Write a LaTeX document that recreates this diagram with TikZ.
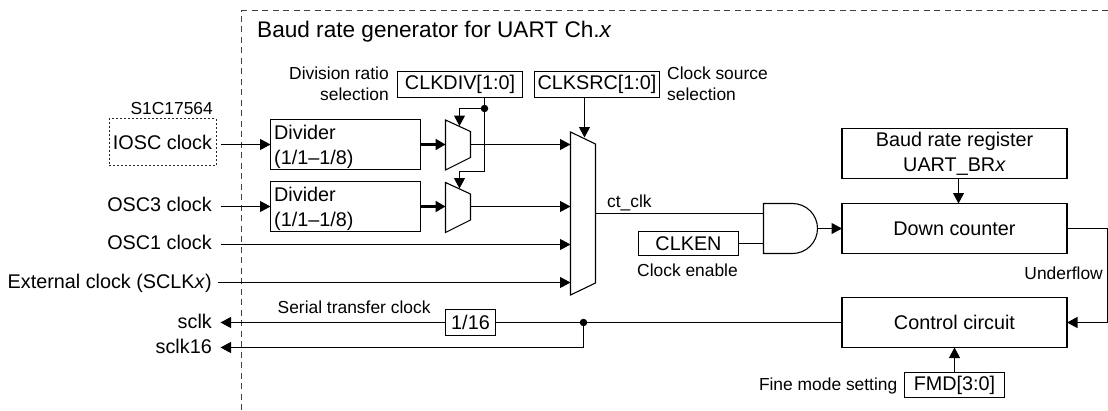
\documentclass[tikz,border=0pt]{standalone}
\usepackage{fontspec}
\setmainfont{Liberation Sans}
\usetikzlibrary{arrows.meta}
\newcommand{\ftitle}{\fontsize{22.6}{27}\selectfont}
\newcommand{\fmain}{\fontsize{19.8}{24.8}\selectfont}
\newcommand{\fsmall}{\fontsize{17.4}{21}\selectfont}
\tikzset{
  wire/.style={line width=1.1pt,-{Triangle[length=10.5pt,width=11pt]}},
  plain/.style={line width=1.1pt},
  thickwire/.style={line width=2.2pt,-{Triangle[length=10pt,width=11pt]}},
  blockbox/.style={draw,line width=1.1pt,inner sep=0pt,outer sep=0pt,font=\fmain,align=center},
  labelmain/.style={inner sep=0pt,font=\fmain},
  labelsmall/.style={inner sep=0pt,font=\fsmall},
  muxshape/.style={draw,line width=1.1pt,line join=miter},
  frame/.style={line width=0.9pt,dash pattern=on 6pt off 4.5pt,black!75},
  chipframe/.style={draw,line width=1pt,dash pattern=on 2pt off 2pt,inner sep=0pt,outer sep=0pt,font=\fmain,black!85,text=black},
  dotjoin/.style={circle,fill,inner sep=0pt,minimum size=7.5pt}
}
\begin{document}
\begin{tikzpicture}[x=1pt,y=-1pt]
\useasboundingbox (0,0) rectangle (1108,410);
% frame
\coordinate (fa) at (241.5,410);
\coordinate (fb) at (241.5,10.5);
\coordinate (fc) at (1108,10.5);
\draw[frame] (fa) -- (fb) -- (fc);
\node[labelmain,font=\ftitle,anchor=base west] (title) at (257,37.5) {Baud rate generator for UART Ch.\textit{x}};
% sources
\node[labelsmall,anchor=base east] (chip) at (213,114) {S1C17564};
\node[chipframe,minimum width=107pt,minimum height=47pt] (iosc) at (162.5,142) {IOSC clock};
\node[labelmain,anchor=base east] (osc3) at (212,211.5) {OSC3 clock};
\node[labelmain,anchor=base east] (osc1) at (212,249.5) {OSC1 clock};
\node[labelmain,anchor=base east] (ext) at (212,288) {External clock (SCLK\textit{x})};
% dividers
\node[blockbox,minimum width=150pt,minimum height=50pt] (div1) at (345.5,144.5) {};
\node[blockbox,minimum width=150pt,minimum height=50pt] (div2) at (345.5,206.5) {};
\node[labelmain,anchor=base west] (div1a) at (274,139) {Divider};
\node[labelmain,anchor=base west] (div1b) at (274,164) {(1/1--1/8)};
\node[labelmain,anchor=base west] (div2a) at (274,201.5) {Divider};
\node[labelmain,anchor=base west] (div2b) at (274,226.5) {(1/1--1/8)};
% small muxes
\draw[muxshape] (445.5,120) coordinate (m1tl) -- (470.5,131.5) -- (470.5,157.5) -- (445.5,170) -- cycle;
\draw[muxshape] (445.5,182.5) -- (470.5,194) -- (470.5,220) -- (445.5,232.5) -- cycle;
\coordinate (m1in) at (445.5,144.5);
\coordinate (m1out) at (470.5,144.5);
\coordinate (m1sel) at (459.5,126);
\coordinate (m2in) at (445.5,206.5);
\coordinate (m2out) at (470.5,206.5);
\coordinate (m2sel) at (459.5,188.5);
% main mux
\draw[muxshape] (570.5,132) -- (595.5,144) -- (595.5,283) -- (570.5,295) -- cycle;
\coordinate (ma) at (570.5,144.5);
\coordinate (mb) at (570.5,206.5);
\coordinate (mc) at (570.5,244.5);
\coordinate (md) at (570.5,282.5);
\coordinate (msel) at (584.5,137.5);
\coordinate (mout) at (595.5,213.5);
% selectors
\node[blockbox,minimum width=125pt,minimum height=26pt] (clkdiv) at (460,84.5) {CLKDIV[1:0]};
\node[blockbox,minimum width=125pt,minimum height=26pt] (clksrc) at (597,84.5) {CLKSRC[1:0]};
\node[labelsmall,anchor=base east] (dr1) at (389,79) {Division ratio};
\node[labelsmall,anchor=base east] (dr2) at (389,100) {selection};
\node[labelsmall,anchor=base west] (cs1) at (667,79) {Clock source};
\node[labelsmall,anchor=base west] (cs2) at (667,100) {selection};
\node[dotjoin] (dj) at (484.5,108.5) {};
\coordinate (divdrop) at (484.5,97.5);
\coordinate (srcdrop) at (584.5,97.5);
\coordinate (djlow) at (484.5,171.5);
\coordinate (m1bend) at (459.5,108.5);
\coordinate (m2bend) at (459.5,171.5);
% input connectors
\coordinate (ioscout) at (221,144.5);
\coordinate (osc3out) at (221,206.5);
\coordinate (osc1out) at (221,244.5);
\coordinate (extout) at (218,282.5);
\coordinate (d1in) at (270.5,144.5);
\coordinate (d2in) at (270.5,206.5);
\coordinate (d1out) at (421,144.5);
\coordinate (d2out) at (421,206.5);
\draw[wire] (ioscout) -- (d1in);
\draw[wire] (osc3out) -- (d2in);
\draw[wire] (osc1out) -- (mc);
\draw[wire] (extout) -- (md);
\draw[thickwire] (d1out) -- (m1in);
\draw[thickwire] (d2out) -- (m2in);
\draw[wire] (m1out) -- (ma);
\draw[wire] (m2out) -- (mb);
\draw[wire] (srcdrop) -- (msel);
\draw[plain] (divdrop) -- (djlow);
\draw[wire] (dj.center) -- (m1bend) -- (m1sel);
\draw[wire] (djlow) -- (m2bend) -- (m2sel);
% AND gate
\coordinate (gi1) at (763.5,213.5);
\coordinate (gi2) at (763.5,243.5);
\coordinate (gout) at (817.5,228.5);
\draw[muxshape] (763.5,203.5) -- (792.5,203.5) arc[start angle=90,end angle=-90,radius=25pt] -- (763.5,253.5) -- cycle;
\node[blockbox,minimum width=100pt,minimum height=24pt] (clken) at (688.5,243.5) {CLKEN};
\node[labelsmall,anchor=base west] (ceL) at (637,276.5) {Clock enable};
\node[labelsmall,anchor=base west] (ctl) at (607,207) {ct\_clk};
\draw[plain] (mout) -- (gi1);
\draw[plain] (clken) -- (gi2);
% right blocks
\node[blockbox,minimum width=225pt,minimum height=50pt,align=center] (brr) at (954.5,153.5) {\rule{0pt}{1.5pt}Baud rate register\\UART\_BR\textit{x}};
\node[blockbox,minimum width=225pt,minimum height=50pt] (dc) at (954.5,228.5) {Down counter};
\node[blockbox,minimum width=225pt,minimum height=50pt] (cc) at (954.5,322.5) {Control circuit};
\node[blockbox,minimum width=100pt,minimum height=25pt] (fmd) at (954.5,385) {FMD[3:0]};
\node[labelsmall,anchor=base east] (fm) at (897.5,390) {Fine mode setting};
\node[labelsmall,anchor=base east] (uf) at (1103,279.5) {Underflow};
\coordinate (brrb) at (958.5,178.5);
\coordinate (dct) at (958.5,203.5);
\coordinate (ur) at (1107.5,228.5);
\coordinate (lr) at (1107.5,322.5);
\draw[wire] (brrb) -- (dct);
\draw[wire] (gout) -- (dc.west);
\draw[wire] (dc.east) -- (ur) -- (lr) -- (cc.east);
\draw[wire] (fmd.north) -- (cc.south -| fmd.north);
% outputs
\node[blockbox,minimum width=50pt,minimum height=26pt] (d16) at (470.5,322.5) {1/16};
\node[dotjoin] (oj) at (583.5,322.5) {};
\node[labelmain,anchor=base east] (sclk) at (212,328.5) {sclk};
\node[labelmain,anchor=base east] (sclks) at (212,353.5) {sclk16};
\node[labelsmall,anchor=base west] (stc) at (277.5,313.5) {Serial transfer clock};
\coordinate (sclkto) at (220.5,322.5);
\coordinate (sclksto) at (220.5,347.5);
\coordinate (ojd) at (583.5,347.5);
\draw[plain] (cc.west) -- (oj.center) -- (d16.east);
\draw[wire] (d16.west) -- (sclkto);
\draw[wire] (oj.center) -- (ojd) -- (sclksto);
\end{tikzpicture}
\end{document}
